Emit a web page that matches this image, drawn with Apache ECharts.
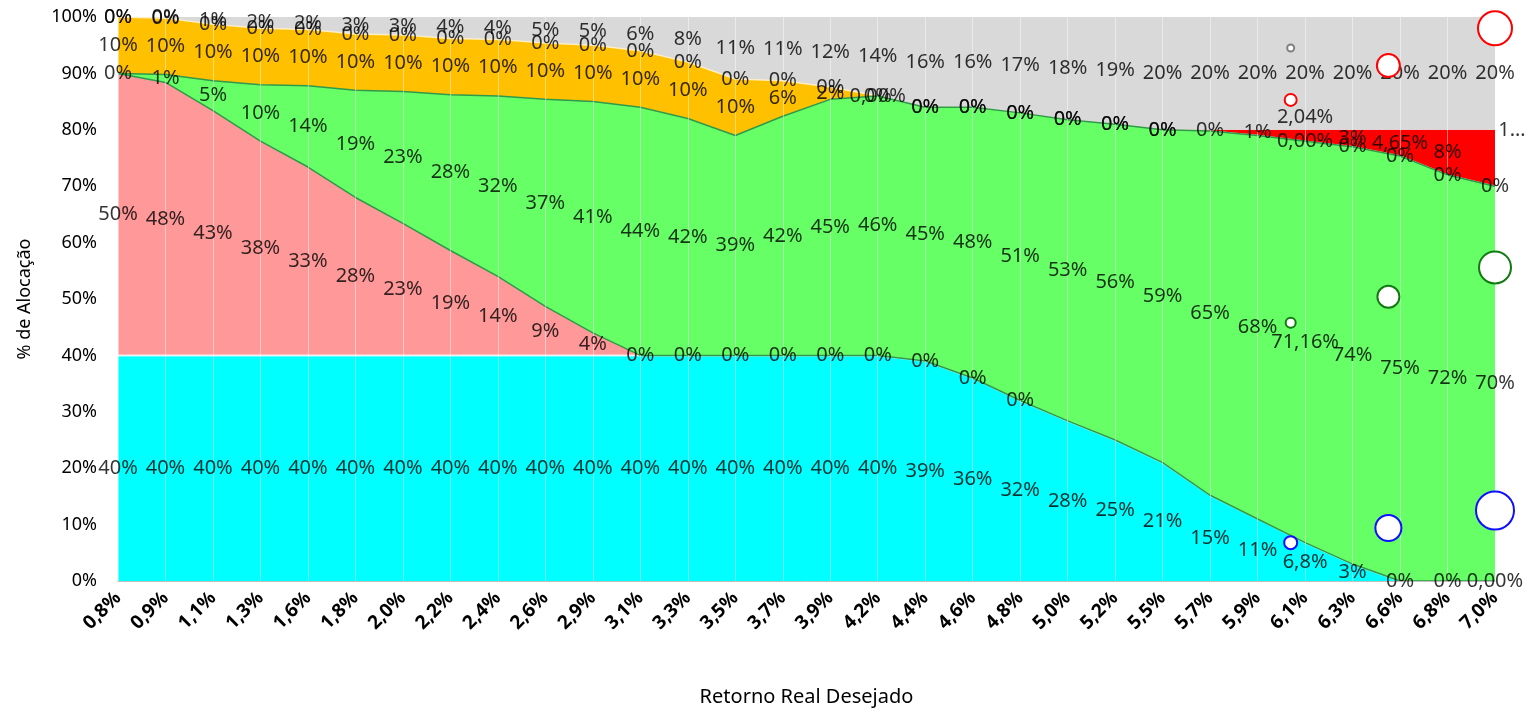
<!DOCTYPE html>
<html>
<head>
<meta charset="utf-8">
<script src="https://cdn.jsdelivr.net/npm/echarts@6/dist/echarts.min.js"></script>
<style>
html,body{margin:0;padding:0;background:#fff;}
#chart{width:1533px;height:712px;}
</style>
</head>
<body>
<div id="chart"></div>
<script>
// ---------- DATA ----------
const categories = ['0,8%','0,9%','1,1%','1,3%','1,6%','1,8%','2,0%','2,2%','2,4%','2,6%','2,9%','3,1%','3,3%','3,5%','3,7%','3,9%','4,2%','4,4%','4,6%','4,8%','5,0%','5,2%','5,5%','5,7%','5,9%','6,1%','6,3%','6,6%','6,8%','7,0%'];

const cyanValues   = [40,40,40,40,40,40,40,40,40,40,40,40,40,40,40,40,40,39,36,32,28.4,25,21,15.2,11,6.8,3,0,0,0];
const pinkValues   = [50,48.4,43.4,38,33.4,28,23.4,18.6,14,8.7,4,0,0,0,0,0,0,0,0,0,null,null,null,null,null,null,null,null,null,null];
const greenValues  = [0,1.4,5.3,10,14.4,19,23.4,27.6,32,36.7,41,44,42,39,42.4,45.4,46,45,48,51,53.4,56,59,64.6,68,71.16,74,75.35,72,70];
const orangeValues = [10,10,10,10,10,10,10,10,10,10,10,10,10,10,6.3,2.2,0,0,0,0,0,0,0,0,0,0,0,0,0,0];
const redValues    = [0,0,0,0,0,0,0,0,0,0,0,0,0,0,0,0,0,0,0,0,0,0,0,0.2,1,2.04,3,4.65,8,10];
const greyValues   = [0,0.2,1.3,2,2.2,3,3.2,3.8,4,4.6,5,6,8,11,11.3,12.4,14,16,16,17,18.2,19,20,20,20,20,20,20,20,20];

// label texts that differ from the rounded default ('' = no label shown)
const cyanLabelText   = {25:'6,8%', 29:'0,00%'};
const greenLabelText  = {25:'71,16%'};
const orangeLabelText = {16:'0,00%', 23:'', 24:'', 25:'0,00%'};
const redLabelText    = {25:'2,04%', 27:'4,65%', 29:'1…'};

const yTicks = [0,10,20,30,40,50,60,70,80,90,100];

// bubbles (x = retorno, y = % alocação, size)
const bubbleX          = [6.08, 6.52, 7.0];
const bubbleRedY       = [85.3, 91.4, 98.0];
const bubbleGreenY     = [45.8, 50.4, 55.6];
const bubbleBlueY      = [6.8, 9.4, 12.5];
const bubbleGreyY      = [94.5];
const bubbleRedSize    = [12, 23, 34];
const bubbleGreenSize  = [10, 22, 32];
const bubbleBlueSize   = [13, 26, 38];
const bubbleGreySize   = [7];

// ---------- CHART ----------
const FONT = 'Noto Sans';
const chart = echarts.init(document.getElementById('chart'), null, {renderer:'canvas'});

const layers = [
  {name:'Pós-fixado', data:cyanValues, color:'#00ffff', line:{color:'rgba(255,255,255,0.75)', width:2}, texts:cyanLabelText, z:2},
  {name:'Prefixado', data:pinkValues, color:'#ff9999', line:{width:0}, texts:{}, z:2},
  {name:'IPCA+', data:greenValues, color:'#66ff66', line:{color:'#2f9a4a', width:1.5}, texts:greenLabelText, z:3},
  {name:'Multimercado', data:orangeValues, color:'#ffc000', line:{color:'rgba(255,240,200,0.9)', width:1.5}, texts:orangeLabelText, z:2},
  {name:'Ações', data:redValues, color:'#ff0000', line:{width:0}, texts:redLabelText, z:2},
  {name:'Exterior', data:greyValues, color:'#d9d9d9', line:{width:0}, texts:{}, z:2}
];

function fmt(v){ return Math.round(v) + '%'; }

const labelNudge = {'Ações': {25:[0,-18], 29:[17,-28]}};

const series = [];
const base = categories.map(()=>0);
const labelSeries = [];
layers.forEach((L, li) => {
  series.push({
    name:L.name, type:'line', stack:'total', z:L.z,
    data:L.data.map(v => v == null ? 0 : v),
    symbol:'none', smooth:false,
    lineStyle:L.line.width ? L.line : {width:0, opacity:0},
    areaStyle:{color:L.color, opacity:1},
    emphasis:{disabled:true}, silent:true
  });
  if (li === 1) {
    // outline of the green band's bottom edge
    series.push({
      name:'_edge', type:'line', stack:'total', z:3,
      data:categories.map(()=>0), symbol:'none',
      lineStyle:{color:'#2f9a4a', width:1.5}, silent:true
    });
  }
  const pts = [];
  L.data.forEach((v, i) => {
    if (v != null) {
      const mid = base[i] + v/2;
      const txt = L.texts[i] !== undefined ? L.texts[i] : fmt(v);
      if (txt !== '') {
        const nudge = (labelNudge[L.name] || {})[i];
        const item = {value:[i, mid], txt:txt};
        if (nudge) item.label = {offset:nudge};
        pts.push(item);
      }
    }
    base[i] += (v == null ? 0 : v);
  });
  labelSeries.push({
    type:'scatter', z:10, symbolSize:0, silent:true,
    data:pts,
    itemStyle:{color:'transparent'},
    label:{show:true, position:'inside', color:'#000', fontFamily:FONT, fontSize:20,
      textBorderWidth:0, textShadowBlur:0,
      formatter:p => p.data.txt}
  });
});

function bubbles(ys, sizes, color){
  return {
    type:'scatter', xAxisIndex:1, z:12, silent:true,
    data:ys.map((y,i)=>({value:[bubbleX[i], y], symbolSize:sizes[i]})),
    itemStyle:{color:'#fff', borderColor:color, borderWidth:2, opacity:1}
  };
}

const option = {
  animation:false,
  backgroundColor:'#fff',
  grid:{left:118, right:38, top:17, bottom:131},
  xAxis:[{
    type:'category', data:categories, boundaryGap:false, z:5,
    axisLine:{show:true, lineStyle:{color:'#bfbfbf', width:1}},
    axisTick:{show:false},
    splitLine:{show:true, lineStyle:{color:'rgba(255,255,255,0.45)', width:1}},
    axisLabel:{rotate:45, fontFamily:FONT, fontWeight:'bold', fontSize:19, color:'#000', margin:14, interval:0},
    name:'Retorno Real Desejado', nameLocation:'middle', nameGap:106,
    nameTextStyle:{fontFamily:FONT, fontSize:20, color:'#000'}
  },{
    type:'value', min:0.8, max:7.0, show:false
  }],
  yAxis:{
    type:'value', min:yTicks[0], max:yTicks[yTicks.length-1], interval:10,
    axisLine:{show:false}, axisTick:{show:false}, splitLine:{show:false},
    axisLabel:{formatter:'{value}%', fontFamily:FONT, fontSize:18, color:'#000', margin:21},
    name:'% de Alocação', nameLocation:'middle', nameGap:84,
    nameTextStyle:{fontFamily:FONT, fontSize:18, color:'#000'}
  },
  series: series.concat(labelSeries).concat([
    bubbles(bubbleGreyY, bubbleGreySize, '#808080'),
    bubbles(bubbleRedY, bubbleRedSize, '#ff0000'),
    bubbles(bubbleGreenY, bubbleGreenSize, '#117a11'),
    bubbles(bubbleBlueY, bubbleBlueSize, '#1010ff')
  ])
};
chart.setOption(option);
</script>
</body>
</html>
